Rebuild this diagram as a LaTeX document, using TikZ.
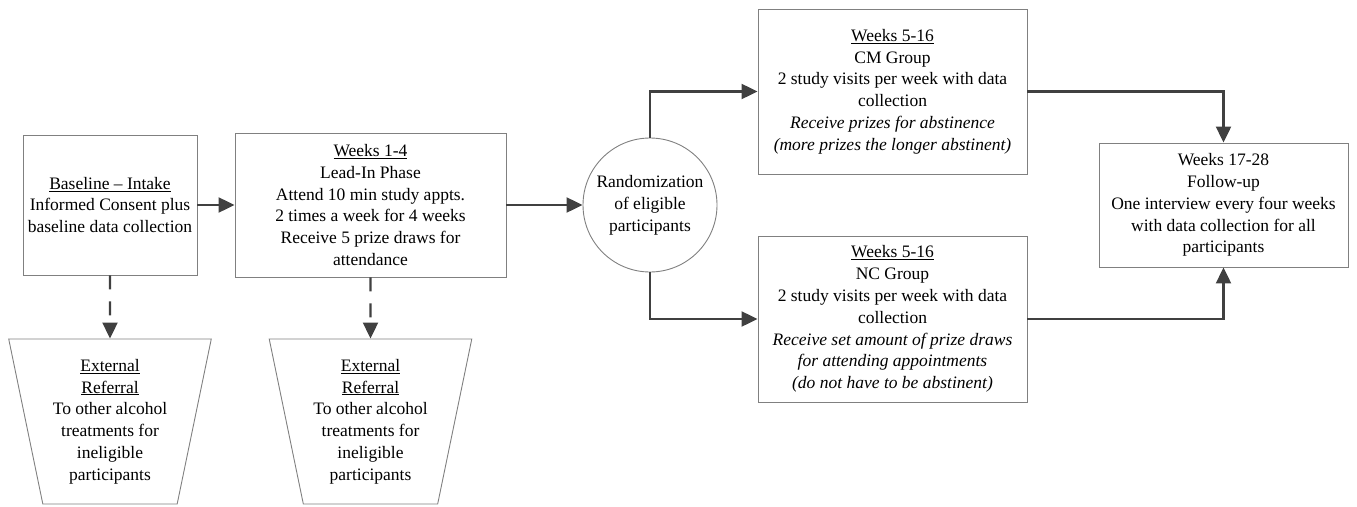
\documentclass[tikz,border=0pt]{standalone}
\usepackage{fontspec}
\setmainfont{Liberation Serif}
\usetikzlibrary{arrows.meta,shapes.geometric}
\definecolor{linec}{RGB}{64,64,64}
\definecolor{boxc}{RGB}{128,128,128}
\tikzset{
  box/.style={draw=boxc, line width=0.9pt, rectangle, inner sep=0pt, align=center,
    font=\fontsize{17.5}{21.8}\selectfont},
  refbox/.style={draw=boxc, line width=0.9pt, trapezium, trapezium angle=76.9,
    shape border rotate=180, trapezium stretches=true, inner sep=0pt, align=center,
    font=\fontsize{17.5}{21.8}\selectfont},
  roundbox/.style={draw=boxc, line width=0.9pt, circle, inner sep=0pt, align=center,
    minimum size=134pt, font=\fontsize{17.5}{21.8}\selectfont},
  arr/.style={draw=linec, line width=2.2pt, -{Triangle[length=16pt,width=15pt]}},
  darr/.style={arr, dash pattern=on 14pt off 12pt},
}
\begin{document}
\begin{tikzpicture}[x=1pt,y=-1pt]
\useasboundingbox (0,0) rectangle (1357,506);
\node[box, minimum width=174pt, minimum height=140pt] (base) at (110,205)
  {\underline{Baseline -- Intake}\\Informed Consent plus\\baseline data collection};
\node[box, minimum width=271pt, minimum height=144pt] (lead) at (370.5,205)
  {\underline{Weeks 1-4}\\Lead-In Phase\\Attend 10 min study appts.\\2 times a week for 4 weeks\\Receive 5 prize draws for\\attendance};
\node[refbox, minimum width=203pt, minimum height=165pt] (ref1) at (110,421.5)
  {\underline{External}\\\underline{Referral}\\To other alcohol\\treatments for\\ineligible\\participants};
\node[refbox, minimum width=203pt, minimum height=165pt] (ref2) at (370.5,421.5)
  {\underline{External}\\\underline{Referral}\\To other alcohol\\treatments for\\ineligible\\participants};
\node[roundbox] (rand) at (650,205) {Randomization\\of eligible\\participants};
\node[box, minimum width=269pt, minimum height=165pt] (cm) at (892.5,91.5)
  {\underline{Weeks 5-16}\\CM Group\\2 study visits per week with data\\collection\\\textit{Receive prizes for abstinence}\\\textit{(more prizes the longer abstinent)}};
\node[box, minimum width=269pt, minimum height=166pt] (nc) at (892.5,319)
  {\underline{Weeks 5-16}\\NC Group\\2 study visits per week with data\\collection\\\textit{Receive set amount of prize draws}\\\textit{for attending appointments}\\\textit{(do not have to be abstinent)}};
\node[box, minimum width=249pt, minimum height=124pt] (fu) at (1223.5,205)
  {Weeks 17-28\\Follow-up\\One interview every four weeks\\with data collection for all\\participants};
\draw[arr] (base.east) -- (lead.west);
\draw[arr] (lead.east) -- (rand.west);
\draw[darr] (base.south) -- (ref1.north);
\draw[darr] (lead.south) -- (ref2.north);
\draw[arr] (rand.north) |- (cm.west);
\draw[arr] (rand.south) |- (nc.west);
\draw[arr] (cm.east) -| (fu.north);
\draw[arr] (nc.east) -| (fu.south);
\end{tikzpicture}
\end{document}
